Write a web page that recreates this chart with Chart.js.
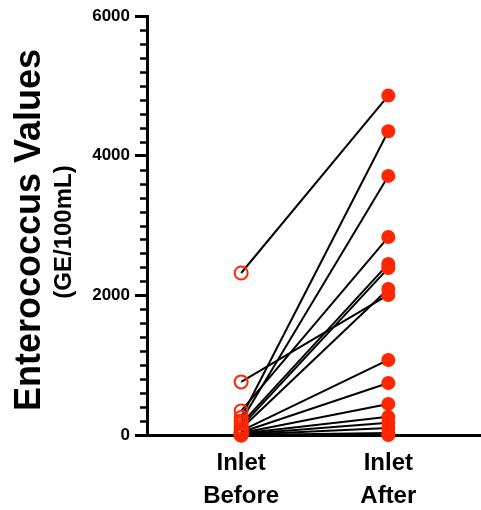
<!DOCTYPE html>
<html>
<head>
<meta charset="utf-8">
<script src="https://cdn.jsdelivr.net/npm/chart.js@4/dist/chart.umd.min.js"></script>
<style>
  body { margin: 0; background: #fff; overflow: hidden; }
</style>
</head>
<body>
<canvas id="chart" width="481" height="510"></canvas>
<script>
// groups on the x axis
const groupPos = [1, 2];
const groupLabels = [["Inlet", "Before"], ["Inlet", "After"]];

// paired samples (GE/100mL), index i of before goes with index i of after
const before = [2320, 760, 345, 250, 200, 160, 120, 90, 60, 40, 30, 20, 10, 5, 0, 0];
const after = [4860, 2005, 2835, 4350, 3710, 2450, 2390, 2090, 1075, 745, 445, 260, 175, 100, 30, 0];

const yTicks = [0, 2000, 4000, 6000];
const yMinorStep = 200;

const red = "rgb(255,38,0)";
const fontFamily = '"Liberation Sans", Arial, Helvetica, sans-serif';

// one line per pair
const pairLines = before.map((b, i) => ({
  type: "line",
  data: [
    { x: groupPos[0], y: b },
    { x: groupPos[1], y: after[i] },
  ],
  borderColor: "#000",
  borderWidth: 2,
  pointRadius: 0,
  clip: false,
  order: 2,
}));

// minor ticks on the y axis and the two line y title
const extras = {
  id: "extras",
  afterDraw(chart) {
    const ctx = chart.ctx;
    const y = chart.scales.y;
    const left = chart.chartArea.left;
    ctx.save();
    ctx.strokeStyle = "#000";
    ctx.lineWidth = 2.5;
    for (let v = yMinorStep; v < y.max; v += yMinorStep) {
      if (yTicks.includes(v)) continue;
      const py = Math.round(y.getPixelForValue(v)) + 0.5;
      ctx.beginPath();
      ctx.moveTo(left - 7, py);
      ctx.lineTo(left, py);
      ctx.stroke();
    }
    ctx.fillStyle = "#000";
    ctx.textAlign = "center";
    ctx.textBaseline = "alphabetic";
    ctx.translate(40, 230);
    ctx.rotate(-Math.PI / 2);
    ctx.font = "bold 36px " + fontFamily;
    ctx.fillText("Enterococcus Values", 0, 0);
    ctx.restore();

    ctx.save();
    ctx.fillStyle = "#000";
    ctx.textAlign = "center";
    ctx.translate(71, 232);
    ctx.rotate(-Math.PI / 2);
    ctx.font = "bold 24px " + fontFamily;
    ctx.fillText("(GE/100mL)", 0, 0);
    ctx.restore();
  },
};

new Chart(document.getElementById("chart"), {
  type: "scatter",
  data: {
    datasets: [
      ...pairLines,
      {
        label: "Inlet Before",
        data: before.map((v) => ({ x: groupPos[0], y: v })),
        pointRadius: 6.5,
        pointBorderWidth: 2,
        pointBorderColor: red,
        pointBackgroundColor: "rgba(0,0,0,0)",
        clip: false,
        order: 1,
      },
      {
        label: "Inlet After",
        data: after.map((v) => ({ x: groupPos[1], y: v })),
        pointRadius: 7,
        pointBorderWidth: 0,
        pointBackgroundColor: red,
        clip: false,
        order: 0,
      },
    ],
  },
  options: {
    responsive: false,
    animation: false,
    layout: { autoPadding: false, padding: { top: 16, right: 0, left: 0, bottom: 0 } },
    plugins: {
      legend: { display: false },
      tooltip: { enabled: false },
    },
    scales: {
      x: {
        type: "linear",
        min: 0.36,
        max: 2.63,
        afterBuildTicks: (scale) => {
          scale.ticks = groupPos.map((v) => ({ value: v }));
        },
        afterFit: (scale) => {
          scale.height = 75;
        },
        border: { display: true, color: "#000", width: 3 },
        grid: {
          drawOnChartArea: false,
          drawTicks: true,
          tickLength: 6,
          tickWidth: 2,
          color: "#000",
        },
        ticks: {
          color: "#000",
          padding: 6,
          autoSkip: false,
          maxRotation: 0,
          font: { family: fontFamily, size: 24, weight: "bold", lineHeight: 1.375 },
          callback: (v) => groupLabels[groupPos.indexOf(v)],
        },
      },
      y: {
        min: 0,
        max: 6000,
        afterBuildTicks: (scale) => {
          scale.ticks = yTicks.map((v) => ({ value: v }));
        },
        afterFit: (scale) => {
          scale.width = 147;
        },
        border: { display: true, color: "#000", width: 3 },
        grid: {
          drawOnChartArea: false,
          drawTicks: true,
          tickLength: 12,
          tickWidth: 3,
          color: "#000",
        },
        ticks: {
          color: "#000",
          padding: 5,
          font: { family: fontFamily, size: 17, weight: "bold" },
          callback: (v) => String(v),
        },
      },
    },
  },
  plugins: [extras],
});
</script>
</body>
</html>
